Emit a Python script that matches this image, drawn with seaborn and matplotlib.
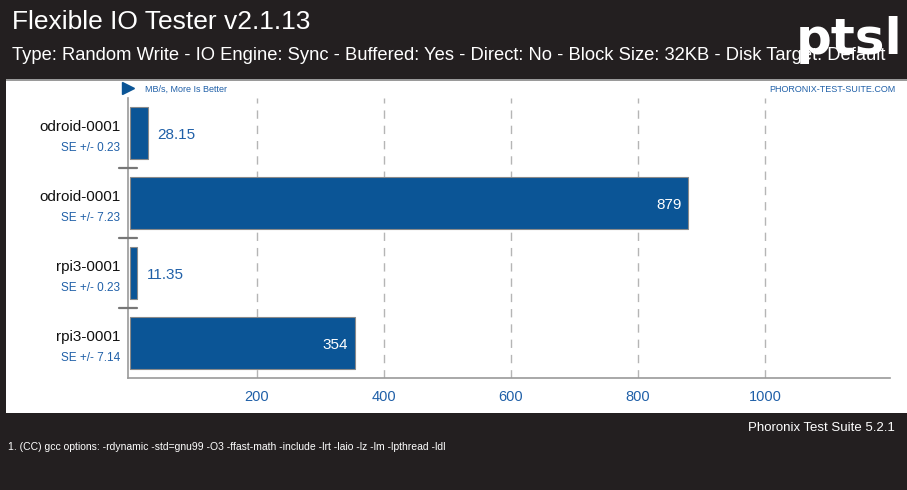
import matplotlib
matplotlib.use("Agg")
import matplotlib.pyplot as plt
import matplotlib.patches as mpatches
import pandas as pd
import seaborn as sns

# --- Data ---
systems = ["odroid-0001", "odroid-0001", "rpi3-0001", "rpi3-0001"]
values = [28.15, 879, 11.35, 354]
value_labels = ["28.15", "879", "11.35", "354"]
std_errors = ["SE +/- 0.23", "SE +/- 7.23", "SE +/- 0.23", "SE +/- 7.14"]
x_ticks = [200, 400, 600, 800, 1000]

title = "Flexible IO Tester v2.1.13"
subtitle = ("Type: Random Write - IO Engine: Sync - Buffered: Yes - Direct: No - "
            "Block Size: 32KB - Disk Target: Default")
footer_version = "Phoronix Test Suite 5.2.1"
footer_note = ("1. (CC) gcc options: -rdynamic -std=gnu99 -O3 -ffast-math -include "
               "-lrt -laio -lz -lm -lpthread -ldl")

dark = "#231f20"
bar_blue = "#0b5596"
text_blue = "#2060a8"

df = pd.DataFrame({"key": [f"r{i}" for i in range(len(values))], "value": values})

sns.set_style("white")
plt.rcParams["font.family"] = ["Liberation Sans", "DejaVu Sans"]

fig = plt.figure(figsize=(9.07, 4.9), dpi=100, facecolor=dark)

# white panel in the middle
W, H = 907, 490
fig.patches.append(mpatches.Rectangle((6 / W, 1 - 413 / H), 1 - 6 / W, (413 - 80) / H,
                                      transform=fig.transFigure, facecolor="white",
                                      edgecolor="none", zorder=-10))
fig.patches.append(mpatches.Rectangle((6 / W, 1 - 81 / H), 1 - 6 / W, 2 / H,
                                      transform=fig.transFigure, facecolor="#9a9a9a",
                                      edgecolor="none", zorder=-10))

ax = fig.add_axes([128 / W, 1 - 378 / H, (890 - 128) / W, 280 / H])
ax.set_facecolor("none")

sns.barplot(data=df, x="value", y="key", orient="h", color=bar_blue, width=0.74,
            edgecolor="#8a8a8a", linewidth=0.8, saturation=1, ax=ax, zorder=3)

ax.set_xlim(-3, 1197)
ax.set_ylim(3.5, -0.5)
ax.set_xlabel("")
ax.set_ylabel("")

# dashed grid lines
for t in x_ticks:
    ax.axvline(t, color="#b5b5b5", linestyle=(0, (6, 5)), linewidth=1, zorder=1)

ax.set_xticks(x_ticks)
ax.set_xticklabels([str(t) for t in x_ticks], color=text_blue, fontsize=10.5)
ax.tick_params(axis="x", length=9, width=1, color="#8a8a8a", direction="inout", pad=4)
ax.set_yticks([])

for side in ["top", "right"]:
    ax.spines[side].set_visible(False)
ax.spines["bottom"].set_color("#9a9a9a")
ax.spines["left"].set_color("#9a9a9a")
ax.spines["bottom"].set_linewidth(1.2)
ax.spines["left"].set_linewidth(1.2)

# category separators on the left
for sep in [0.5, 1.5, 2.5]:
    ax.plot([-0.012, 0.012], [sep, sep], transform=ax.get_yaxis_transform(),
            color="#777777", linewidth=1.6, clip_on=False, zorder=4)

# system names and SE labels
for i, (name, se) in enumerate(zip(systems, std_errors)):
    ax.text(-0.01, i - 0.09, name, transform=ax.get_yaxis_transform(), ha="right",
            va="center", fontsize=11, color="#111111")
    ax.text(-0.01, i + 0.22, se, transform=ax.get_yaxis_transform(), ha="right",
            va="center", fontsize=8.5, color=text_blue)

# value labels
for i, (v, lab) in enumerate(zip(values, value_labels)):
    if v > 200:
        ax.text(v - 10, i + 0.03, lab, ha="right", va="center", fontsize=11, color="white", zorder=5)
    else:
        ax.text(v + 15, i + 0.03, lab, ha="left", va="center", fontsize=11, color=text_blue, zorder=5)

# header texts
fig.text(12 / W, 1 - 22 / H, title, color="white", fontsize=19, va="center", ha="left")
fig.text(12 / W, 1 - 55 / H, subtitle, color="white", fontsize=13.2, va="center", ha="left")
fig.text(903 / W, 1 - 40 / H, "ptsl", color="white", fontsize=36, fontweight="bold",
         va="center", ha="right", family=["DejaVu Sans"])

# small texts at the top of the panel
ax.plot([0.0], [1.035], marker=">", markersize=8, color=bar_blue, transform=ax.transAxes,
        clip_on=False)
fig.text(145 / W, 1 - 89 / H, "MB/s, More Is Better", color=text_blue, fontsize=6.5,
         va="center", ha="left")
fig.text(895 / W, 1 - 89 / H, "PHORONIX-TEST-SUITE.COM", color=text_blue, fontsize=6.5,
         va="center", ha="right")

# footer
fig.text(895 / W, 1 - 428 / H, footer_version, color="white", fontsize=9.5,
         va="center", ha="right")
fig.text(8 / W, 1 - 447 / H, footer_note, color="white", fontsize=7.5,
         va="center", ha="left")

fig.savefig("out.png", dpi=100, facecolor=dark)
